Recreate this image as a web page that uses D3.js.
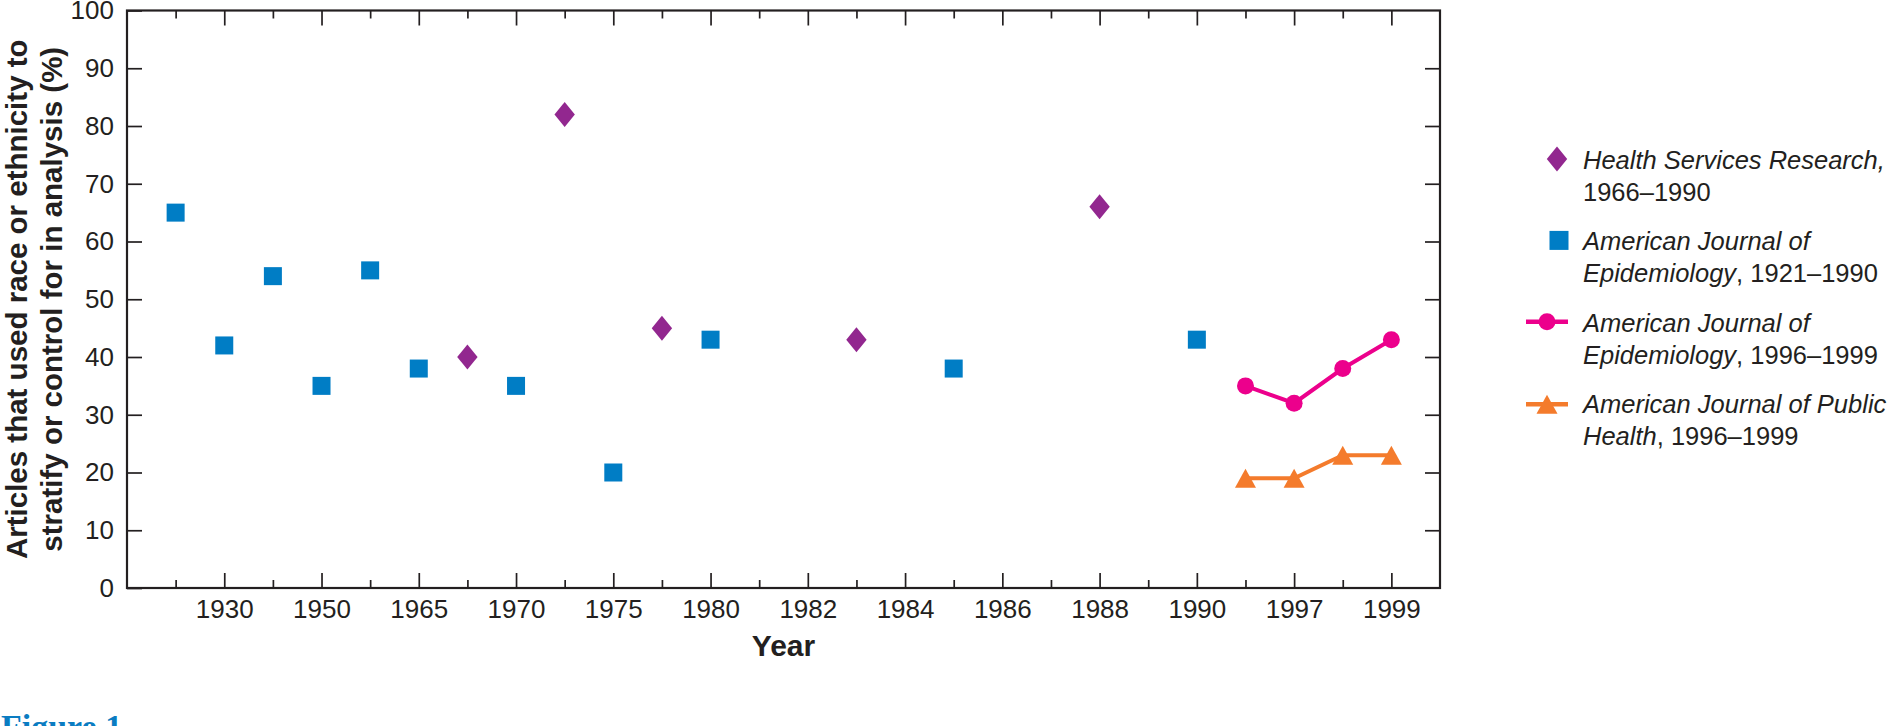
<!DOCTYPE html>
<html>
<head>
<meta charset="utf-8">
<script src="https://d3js.org/d3.v7.min.js"></script>
<style>
    body { margin: 0; background: #fff; }
    svg text { font-family: "Liberation Sans", Arial, sans-serif; fill: #231f20; }
    .tick line { stroke: #231f20; stroke-width: 1.7; }
    .tick text { font-size: 26px; }
</style>
</head>
<body>
<svg id="chart" width="1893" height="726"></svg>
<script>
'use strict';
// x axis is a list of slots, labelled ones on the even slots
var tickLabels = ["1930", "1950", "1965", "1970", "1975", "1980", "1982", "1984", "1986", "1988", "1990", "1997", "1999"];
var tickSlots = [2, 4, 6, 8, 10, 12, 14, 16, 18, 20, 22, 24, 26];
var minorSlots = [1, 3, 5, 7, 9, 11, 13, 15, 17, 19, 21, 23, 25];
var yTicks = [0, 10, 20, 30, 40, 50, 60, 70, 80, 90, 100];

// Health Services Research, 1966-1990
var hsrSlots = [7, 9, 11, 15, 20];
var hsrValues = [40, 82, 45, 43, 66];
// American Journal of Epidemiology, 1921-1990
var ajeOldSlots = [1, 2, 3, 4, 5, 6, 8, 10, 12, 17, 22];
var ajeOldValues = [65, 42, 54, 35, 55, 38, 35, 20, 43, 38, 43];
// American Journal of Epidemiology, 1996-1999
var ajeNewSlots = [23, 24, 25, 26];
var ajeNewValues = [35, 32, 38, 43];
// American Journal of Public Health, 1996-1999
var ajphSlots = [23, 24, 25, 26];
var ajphValues = [19, 19, 23, 23];

var legendItalic1 = ["Health Services Research,", "American Journal of", "American Journal of", "American Journal of Public"];
var legendItalic2 = ["", "Epidemiology", "Epidemiology", "Health"];
var legendRoman2 = ["1966\u20131990", ", 1921\u20131990", ", 1996\u20131999", ", 1996\u20131999"];

var colors = {
    hsr: "#92278f",
    ajeOld: "#007dc5",
    ajeNew: "#ec008c",
    ajph: "#f47b2c"
};
var diamond = "M0,-12.5L10.2,0L0,12.5L-10.2,0Z";
var triangle = "M0,-9.5L10.5,9.5L-10.5,9.5Z";

var plotLeft = 127, plotRight = 1440, plotTop = 10.5, plotBottom = 588;

var x = d3.scaleLinear().domain([0, 27]).range([plotLeft, plotRight]);
var y = d3.scaleLinear().domain([0, 100]).range([plotBottom, plotTop]);

var svg = d3.select("#chart");

function addAxis(axis, transform) {
    var g = svg.append("g")
        .attr("transform", transform)
        .call(axis.tickSizeOuter(0));
    g.select(".domain").remove();
    return g;
}

var noLabel = function () { return ""; };

// bottom and top, long ticks on labelled slots, short ones between
addAxis(d3.axisBottom(x).tickValues(tickSlots).tickSize(-15).tickPadding(12)
    .tickFormat(function (d, i) { return tickLabels[i]; }), "translate(0," + plotBottom + ")");
addAxis(d3.axisBottom(x).tickValues(minorSlots).tickSize(-8).tickFormat(noLabel), "translate(0," + plotBottom + ")");
addAxis(d3.axisTop(x).tickValues(tickSlots).tickSize(-15).tickFormat(noLabel), "translate(0," + plotTop + ")");
addAxis(d3.axisTop(x).tickValues(minorSlots).tickSize(-8).tickFormat(noLabel), "translate(0," + plotTop + ")");

addAxis(d3.axisLeft(y).tickValues(yTicks).tickSize(-15).tickPadding(13), "translate(" + plotLeft + ",0)");
addAxis(d3.axisRight(y).tickValues(yTicks.slice(1, -1)).tickSize(-15).tickFormat(noLabel), "translate(" + plotRight + ",0)");

svg.append("rect")
    .attr("x", plotLeft)
    .attr("y", plotTop)
    .attr("width", plotRight - plotLeft)
    .attr("height", plotBottom - plotTop)
    .attr("fill", "none")
    .attr("stroke", "#231f20")
    .attr("stroke-width", 2.2);

// axis titles
var yTitle = ["Articles that used race or ethnicity to", "stratify or control for in analysis (%)"];
svg.selectAll(".ytitle")
    .data(yTitle)
    .enter().append("text")
    .attr("class", "ytitle")
    .attr("transform", function (d, i) {
        return "translate(" + (27 + i * 35) + "," + ((plotTop + plotBottom) / 2) + ") rotate(-90)";
    })
    .attr("text-anchor", "middle")
    .attr("font-weight", "bold")
    .attr("font-size", 29.5)
    .text(function (d) { return d; });

svg.append("text")
    .attr("x", (plotLeft + plotRight) / 2)
    .attr("y", 656)
    .attr("text-anchor", "middle")
    .attr("font-weight", "bold")
    .attr("font-size", 30)
    .text("Year");

svg.append("text")
    .attr("x", 1)
    .attr("y", 738)
    .style("font-family", "'Liberation Serif', 'Times New Roman', serif")
    .style("fill", "#0a7cc2")
    .attr("font-weight", "bold")
    .attr("font-size", 34)
    .text("Figure 1");

// lines for the 1996-1999 series
var line = d3.line()
    .x(function (d) { return x(d[0]); })
    .y(function (d) { return y(d[1]); });

svg.append("path")
    .datum(d3.zip(ajphSlots, ajphValues))
    .attr("d", line)
    .attr("fill", "none")
    .attr("stroke", colors.ajph)
    .attr("stroke-width", 4);

svg.append("path")
    .datum(d3.zip(ajeNewSlots, ajeNewValues))
    .attr("d", line)
    .attr("fill", "none")
    .attr("stroke", colors.ajeNew)
    .attr("stroke-width", 4);

svg.append("g")
    .selectAll("rect")
    .data(d3.zip(ajeOldSlots, ajeOldValues))
    .enter().append("rect")
    .attr("x", function (d) { return x(d[0]) - 9; })
    .attr("y", function (d) { return y(d[1]) - 9; })
    .attr("width", 18)
    .attr("height", 18)
    .attr("fill", colors.ajeOld);

svg.append("g")
    .selectAll("path")
    .data(d3.zip(hsrSlots, hsrValues))
    .enter().append("path")
    .attr("d", diamond)
    .attr("transform", function (d) { return "translate(" + x(d[0]) + "," + y(d[1]) + ")"; })
    .attr("fill", colors.hsr);

svg.append("g")
    .selectAll("circle")
    .data(d3.zip(ajeNewSlots, ajeNewValues))
    .enter().append("circle")
    .attr("cx", function (d) { return x(d[0]); })
    .attr("cy", function (d) { return y(d[1]); })
    .attr("r", 8.5)
    .attr("fill", colors.ajeNew);

svg.append("g")
    .selectAll("path")
    .data(d3.zip(ajphSlots, ajphValues))
    .enter().append("path")
    .attr("d", triangle)
    .attr("transform", function (d) { return "translate(" + x(d[0]) + "," + y(d[1]) + ")"; })
    .attr("fill", colors.ajph);

// legend
var legend = svg.append("g");
var rowY = function (i) { return 169 + i * 81.4; };

legend.append("path")
    .attr("d", diamond)
    .attr("transform", "translate(1557," + (rowY(0) - 10) + ")")
    .attr("fill", colors.hsr);
legend.append("rect")
    .attr("x", 1549.5)
    .attr("y", rowY(1) - 19.5)
    .attr("width", 19)
    .attr("height", 19)
    .attr("fill", colors.ajeOld);
legend.append("line")
    .attr("x1", 1526).attr("x2", 1568)
    .attr("y1", rowY(2) - 10).attr("y2", rowY(2) - 10)
    .attr("stroke", colors.ajeNew)
    .attr("stroke-width", 4.5);
legend.append("circle")
    .attr("cx", 1547)
    .attr("cy", rowY(2) - 10)
    .attr("r", 8.5)
    .attr("fill", colors.ajeNew);
legend.append("line")
    .attr("x1", 1526).attr("x2", 1568)
    .attr("y1", rowY(3) - 9).attr("y2", rowY(3) - 9)
    .attr("stroke", colors.ajph)
    .attr("stroke-width", 4.5);
legend.append("path")
    .attr("d", triangle)
    .attr("transform", "translate(1547," + (rowY(3) - 9) + ")")
    .attr("fill", colors.ajph);

for (var i = 0; i < legendItalic1.length; i++) {
    var t = legend.append("text")
        .attr("x", 1583)
        .attr("y", rowY(i))
        .attr("font-size", 25.5);
    t.append("tspan")
        .attr("font-style", "italic")
        .text(legendItalic1[i]);
    var t2 = legend.append("text")
        .attr("x", 1583)
        .attr("y", rowY(i) + 31.8)
        .attr("font-size", 25.5);
    t2.append("tspan")
        .attr("font-style", "italic")
        .text(legendItalic2[i]);
    t2.append("tspan")
        .text(legendRoman2[i]);
}
</script>
</body>
</html>
